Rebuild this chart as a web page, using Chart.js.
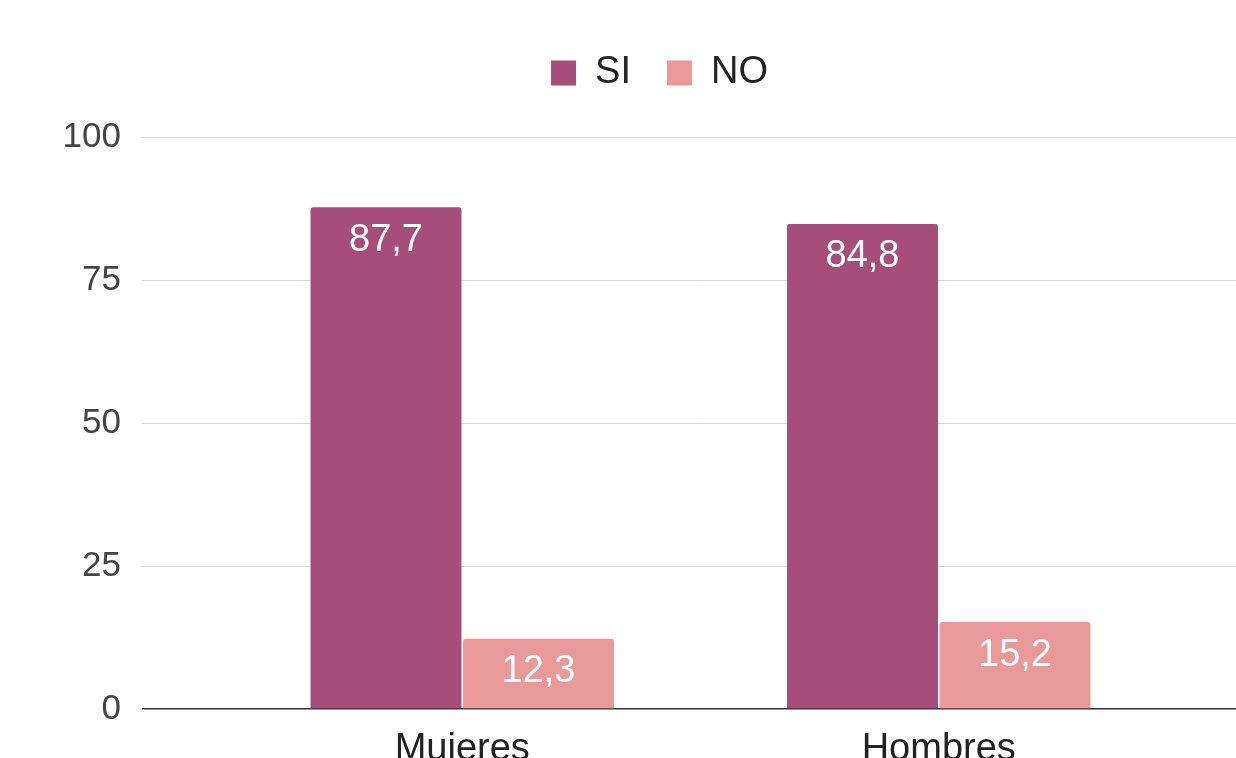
<!DOCTYPE html>
<html>
<head>
<meta charset="utf-8">
<script src="https://cdn.jsdelivr.net/npm/chart.js@4"></script>
<style>
  html, body { margin: 0; padding: 0; background: #fff; }
  #wrap { width: 1236px; height: 758px; }
</style>
</head>
<body>
<div id="wrap"><canvas id="chart" width="1236" height="758"></canvas></div>
<script>
// Data
const categories = ['Mujeres', 'Hombres'];
const siValues = [87.7, 84.8];
const noValues = [12.3, 15.2];
const yTicks = [0, 25, 50, 75, 100];

const FONT = "'Liberation Sans', Arial, sans-serif";

// grid colour: dark line at zero, light elsewhere
function gridColor(ctx) {
    return ctx.tick && ctx.tick.value === 0 ? '#333333' : '#d9d9d9';
}
function gridWidth(ctx) {
    return ctx.tick && ctx.tick.value === 0 ? 1.5 : 1;
}

// extra room under the legend, and nudge it a bit to the right
const legendTweak = {
    id: 'legendTweak',
    beforeUpdate(chart) {
        const legend = chart.legend;
        if (legend && !legend._tweaked) {
            legend._tweaked = true;
            const origFit = legend.fit;
            legend.fit = function () {
                origFit.call(this);
                this.height += 35;
            };
        }
    },
    afterLayout(chart) {
        if (chart.legend) {
            chart.legend.left += 9;
            chart.legend.right += 9;
        }
    }
};

// Draw the value inside the top of each bar
const barLabels = {
    id: 'barLabels',
    afterDatasetsDraw(chart) {
        const ctx = chart.ctx;
        ctx.save();
        ctx.font = '38px ' + FONT;
        ctx.fillStyle = '#ffffff';
        ctx.textAlign = 'center';
        ctx.textBaseline = 'top';
        chart.data.datasets.forEach((ds, i) => {
            chart.getDatasetMeta(i).data.forEach((bar, j) => {
                const txt = ds.data[j].toFixed(1).replace('.', ',');
                ctx.fillText(txt, bar.x, bar.y + 14);
            });
        });
        ctx.restore();
    }
};

new Chart(document.getElementById('chart'), {
    type: 'bar',
    data: {
        labels: categories,
        datasets: [
            {
                label: 'SI',
                data: siValues,
                backgroundColor: '#a64d79',
                borderRadius: 3,
                borderSkipped: 'start'
            },
            {
                label: 'NO',
                data: noValues,
                backgroundColor: '#ea9999',
                borderRadius: 3,
                borderSkipped: 'start'
            }
        ]
    },
    options: {
        responsive: false,
        animation: false,
        layout: { padding: { left: 65, top: 18, right: 0, bottom: 0 } },
        datasets: {
            bar: { categoryPercentage: 0.64, barPercentage: 0.99 }
        },
        plugins: {
            legend: {
                display: true,
                position: 'top',
                labels: {
                    boxWidth: 25,
                    boxHeight: 25,
                    padding: 36,
                    color: '#222222',
                    font: { size: 38, family: FONT }
                }
            },
            tooltip: { enabled: false }
        },
        scales: {
            x: {
                afterFit: s => { s.height = 49; },
                grid: { display: false, drawTicks: false },
                border: { display: false },
                ticks: {
                    color: '#222222',
                    padding: 22,
                    font: { size: 38, family: FONT, lineHeight: 1 }
                }
            },
            y: {
                min: 0,
                max: 100,
                afterBuildTicks: scale => {
                    scale.ticks = yTicks.map(v => ({ value: v }));
                },
                afterFit: s => { s.width = 159; },
                border: { display: false },
                grid: {
                    color: gridColor,
                    tickColor: gridColor,
                    tickLength: 82,
                    lineWidth: gridWidth
                },
                ticks: {
                    color: '#444444',
                    padding: 21,
                    font: { size: 35, family: FONT }
                }
            },
            y2: {
                position: 'right',
                min: 0,
                max: 100,
                afterBuildTicks: scale => {
                    scale.ticks = yTicks.map(v => ({ value: v }));
                },
                border: { display: false },
                grid: {
                    drawOnChartArea: false,
                    color: gridColor,
                    tickColor: gridColor,
                    tickLength: 59,
                    lineWidth: gridWidth
                },
                ticks: { display: false }
            }
        }
    },
    plugins: [legendTweak, barLabels]
});
</script>
</body>
</html>
